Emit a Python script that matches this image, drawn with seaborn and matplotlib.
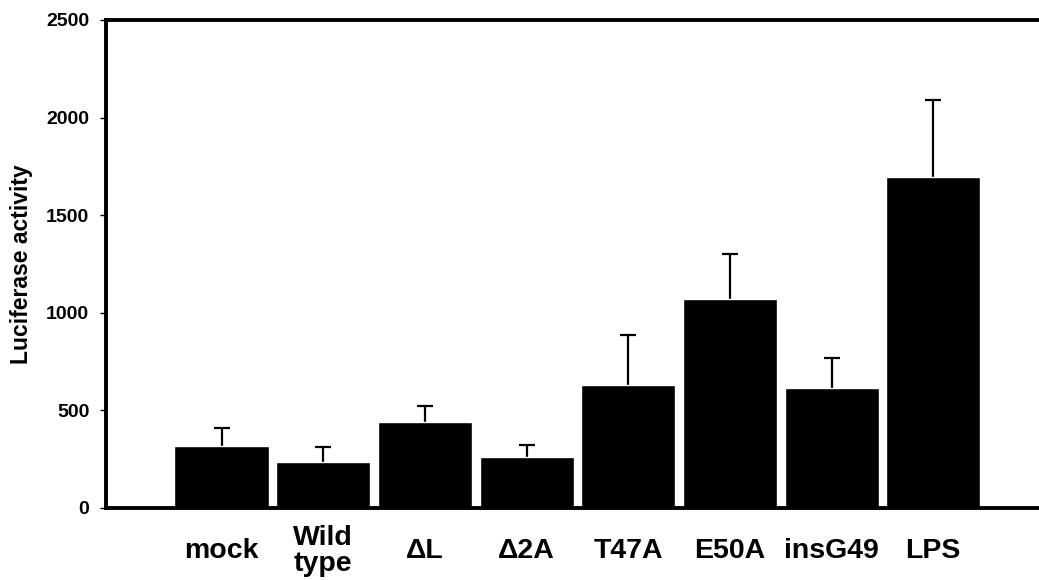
import matplotlib
matplotlib.use("Agg")
import matplotlib.pyplot as plt
import seaborn as sns
import numpy as np
import pandas as pd

# ===================== data =====================
samples = ["mock", "Wild\ntype", "\u0394L", "\u03942A", "T47A", "E50A", "insG49", "LPS"]
activity = [317, 237, 440, 259, 632, 1073, 614, 1696]
activity_err = [92, 78, 80, 63, 256, 227, 154, 392]
y_ticks = [0, 500, 1000, 1500, 2000, 2500]

df = pd.DataFrame({"sample": samples, "activity": activity})

# ===================== style =====================
sns.set_style("white")
plt.rcParams['font.family'] = ['Liberation Sans', 'DejaVu Sans']
plt.rcParams['font.weight'] = 'bold'
plt.rcParams['text.color'] = 'black'
plt.rcParams['xtick.color'] = 'black'
plt.rcParams['ytick.color'] = 'black'
plt.rcParams['axes.labelcolor'] = 'black'

fig = plt.figure(figsize=(10.39, 5.80), dpi=100)
ax = fig.add_axes([106 / 1039, 1 - 508 / 580, 1 - 106 / 1039, (508 - 20) / 580])

sns.barplot(data=df, x="sample", y="activity", color="black", saturation=1,
            width=0.925, errorbar=None, ax=ax, zorder=2)

# upward error bars only (hide the lower caps)
eb = ax.errorbar(np.arange(len(samples)), activity,
                 yerr=[np.zeros(len(samples)), activity_err],
                 fmt="none", ecolor="black", elinewidth=1.6, capsize=5.5, capthick=1.6, zorder=1)
eb[1][0].set_visible(False)

ax.set_xlim(-1.136, 8.04)
ax.set_ylim(0, 2500)
ax.set_yticks(y_ticks)

# frame: left, top, bottom
for side in ["left", "top", "bottom"]:
    ax.spines[side].set_linewidth(2.8)
    ax.spines[side].set_color("black")
ax.spines["right"].set_visible(False)

ax.tick_params(axis="y", length=4, width=1, color="black", pad=8,
               labelsize=14, direction="out", left=True, labelcolor="black")
ax.tick_params(axis="x", length=0, pad=31, labelsize=20.5, labelcolor="black")
for lab in ax.get_xticklabels():
    lab.set_va("center")
    lab.set_linespacing(1.0)
    lab.set_fontweight("bold")
for lab in ax.get_yticklabels():
    lab.set_fontweight("bold")

ax.set_xlabel("")
ax.set_ylabel("Luciferase activity", fontsize=16.5, fontweight="bold", color="black")
ax.yaxis.set_label_coords(-0.078, 0.5)

plt.savefig("out.png", dpi=100)
